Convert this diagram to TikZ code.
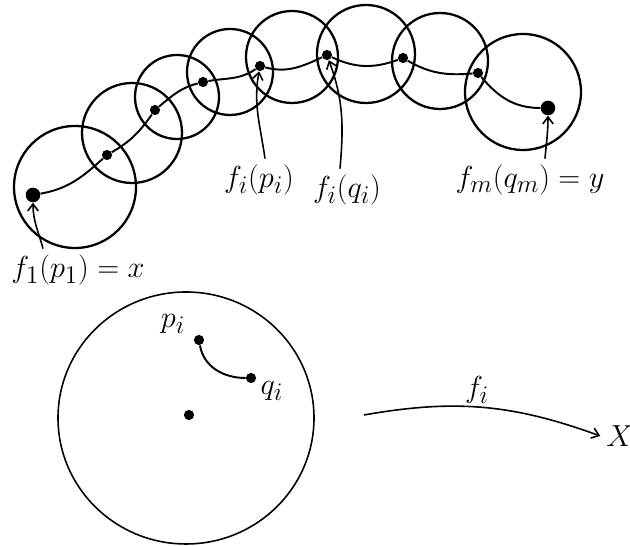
\documentclass[tikz,border=0pt]{standalone}
\usetikzlibrary{arrows.meta}
\begin{document}
\begin{tikzpicture}[x=0.02cm,y=0.02cm,
 every node/.style={font=\fontsize{19}{22}\selectfont},
 dot/.style={circle,fill,inner sep=0pt,minimum size=5.8pt},
 bigdot/.style={circle,fill,inner sep=0pt,minimum size=8.3pt},
 ring/.style={line width=1.3pt},
 ptr/.style={line width=0.9pt,-{Straight Barb[length=4pt,width=6pt]}}]
 \useasboundingbox (0,0) rectangle (630,546);
 % chain of discs
 \foreach \cx/\cy/\r in {75/359/61,132/413/50,177/449/42,230/474/43,292/489/46,366/492/49,440/485/48,523/454/58}
  \draw[ring] (\cx,\cy) circle (\r);
 \node[bigdot] (d1) at (33,351) {}; \node[bigdot] (d9) at (548,438) {};
 \foreach \n/\px/\py in {2/107/391,3/155/436,4/203/464,5/260/480,6/327/491,7/403/488,8/478/473}
  \node[dot] (d\n) at (\px,\py) {};
 \draw[line width=1.1pt] (d1) to[out=10,in=222] (d2) to[out=30,in=235] (d3) to[out=40,in=195] (d4)
  to[out=10,in=215] (d5) to[out=-15,in=205] (d6) to[out=-25,in=200] (d7) to[out=-30,in=185] (d8)
  to[out=-50,in=180] (d9);
 \node (lab1) at (78,276) {$f_1(p_1) = x$}; \node (lab5) at (259,366) {$f_i(p_i)$};
 \node (lab6) at (347,356) {$f_i(q_i)$}; \node (lab9) at (530,366) {$f_m(q_m) = y$};
 \draw[ptr] ([xshift=-0.7cm]lab1.north) to[out=105,in=-90] (d1);
 \draw[ptr] ([xshift=0.12cm]lab5.north) to[out=98,in=-100] (d5);
 \draw[ptr] ([xshift=-0.14cm]lab6.north) to[out=85,in=-70] (d6);
 \draw[ptr] ([xshift=0.3cm]lab9.north) to[out=85,in=-90] (d9);
 % the disc and the map
 \draw[line width=0.9pt] (186,128) ellipse (128 and 126);
 \node[dot] (c0) at (189,131) {}; \node[dot] (p) at (199,206) {}; \node[dot] (q) at (251,168) {};
 \draw[line width=1.1pt] (p) to[out=-80,in=180] (q);
 \node (plab) at (173,222) {$p_i$}; \node (qlab) at (272,155) {$q_i$};
 \coordinate (fs) at (364,131);
 \node (Xlab) at (620,110) {$X$}; \node (flab) at (477,156) {$f_i$};
 \draw[ptr] (fs) to[out=10,in=160] (Xlab.west);
\end{tikzpicture}
\end{document}
